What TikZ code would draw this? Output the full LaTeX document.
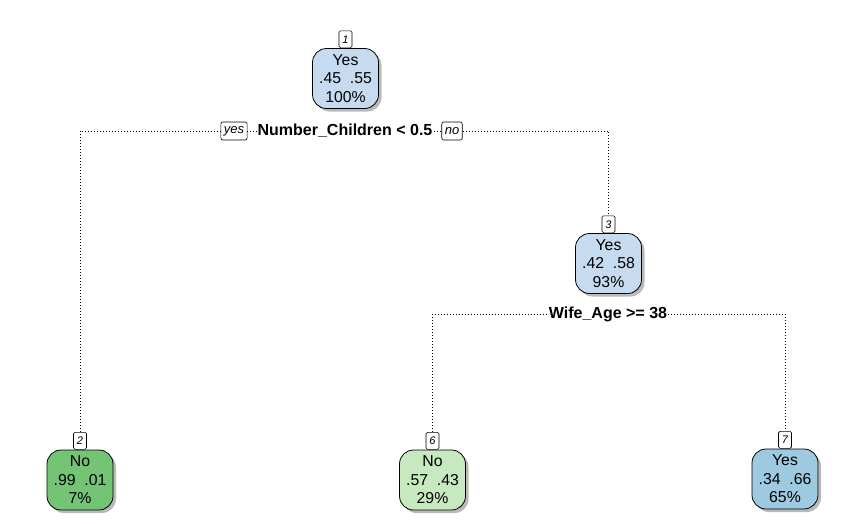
\documentclass[tikz,border=0pt]{standalone}
\usepackage{fontspec}
\setmainfont{Liberation Sans}
\usetikzlibrary{positioning,shadows}
\definecolor{blueA}{HTML}{C6DBEF}
\definecolor{blueB}{HTML}{9ECAE1}
\definecolor{greenA}{HTML}{74C476}
\definecolor{greenB}{HTML}{C7E9C0}
\begin{document}
\begin{tikzpicture}[x=1pt,y=-1pt,
    box/.style={draw,line width=0.8pt,rounded corners=14pt,minimum width=66pt,minimum height=60pt,
      inner sep=0pt,align=center,font=\fontsize{15.8}{18.5}\selectfont,
      drop shadow={shadow xshift=3pt,shadow yshift=-3pt,fill=black!45,opacity=0.6}},
    numlab/.style={draw,fill=white,line width=0.6pt,rounded corners=1.5pt,minimum width=13pt,
      minimum height=17pt,inner sep=1pt,font=\fontsize{11}{11}\selectfont\itshape},
    split/.style={fill=white,inner sep=1pt,font=\fontsize{16}{16}\selectfont\bfseries},
    yesno/.style={draw,fill=white,line width=0.6pt,rounded corners=2pt,minimum height=18pt,
      inner sep=3pt,font=\fontsize{13}{13}\selectfont\itshape},
    link/.style={line width=0.7pt,dash pattern=on 0.7pt off 2.3pt}]
  \useasboundingbox (0,0) rectangle (866,523);
  % nodes of the tree
  \node[box,fill=blueA] (n1) at (345.5,78.5) {Yes\\.45\ \ .55\\100\%};
  \node[box,fill=blueA] (n3) at (608.5,263.5) {Yes\\.42\ \ .58\\93\%};
  \node[box,fill=greenA] (n2) at (80,480) {No\\.99\ \ .01\\7\%};
  \node[box,fill=greenB] (n6) at (432.5,480) {No\\.57\ \ .43\\29\%};
  \node[box,fill=blueB] (n7) at (785,479) {Yes\\.34\ \ .66\\65\%};
  \node[numlab,above=0pt of n1] (n1lab) {1};
  \node[numlab,above=0pt of n3] (n3lab) {3};
  \node[numlab,above=0pt of n2] (n2lab) {2};
  \node[numlab,above=0pt of n6] (n6lab) {6};
  \node[numlab,above=0pt of n7] (n7lab) {7};
  % splits
  \node[split] (sp1) at (345,131) {Number\_Children < 0.5};
  \node[yesno] (yes) at (234,131) {yes};
  \node[yesno] (no) at (452,131) {no};
  \node[split] (sp3) at (608,314) {Wife\_Age >= 38};
  \draw[link] (n2lab.north) |- (yes.west);
  \draw[link] (yes.east) -- (sp1.west);
  \draw[link] (sp1.east) -- (no.west);
  \draw[link] (no.east) -| (n3lab.north);
  \draw[link] (n6lab.north) |- (sp3.west);
  \draw[link] (sp3.east) -| (n7lab.north);
\end{tikzpicture}
\end{document}
